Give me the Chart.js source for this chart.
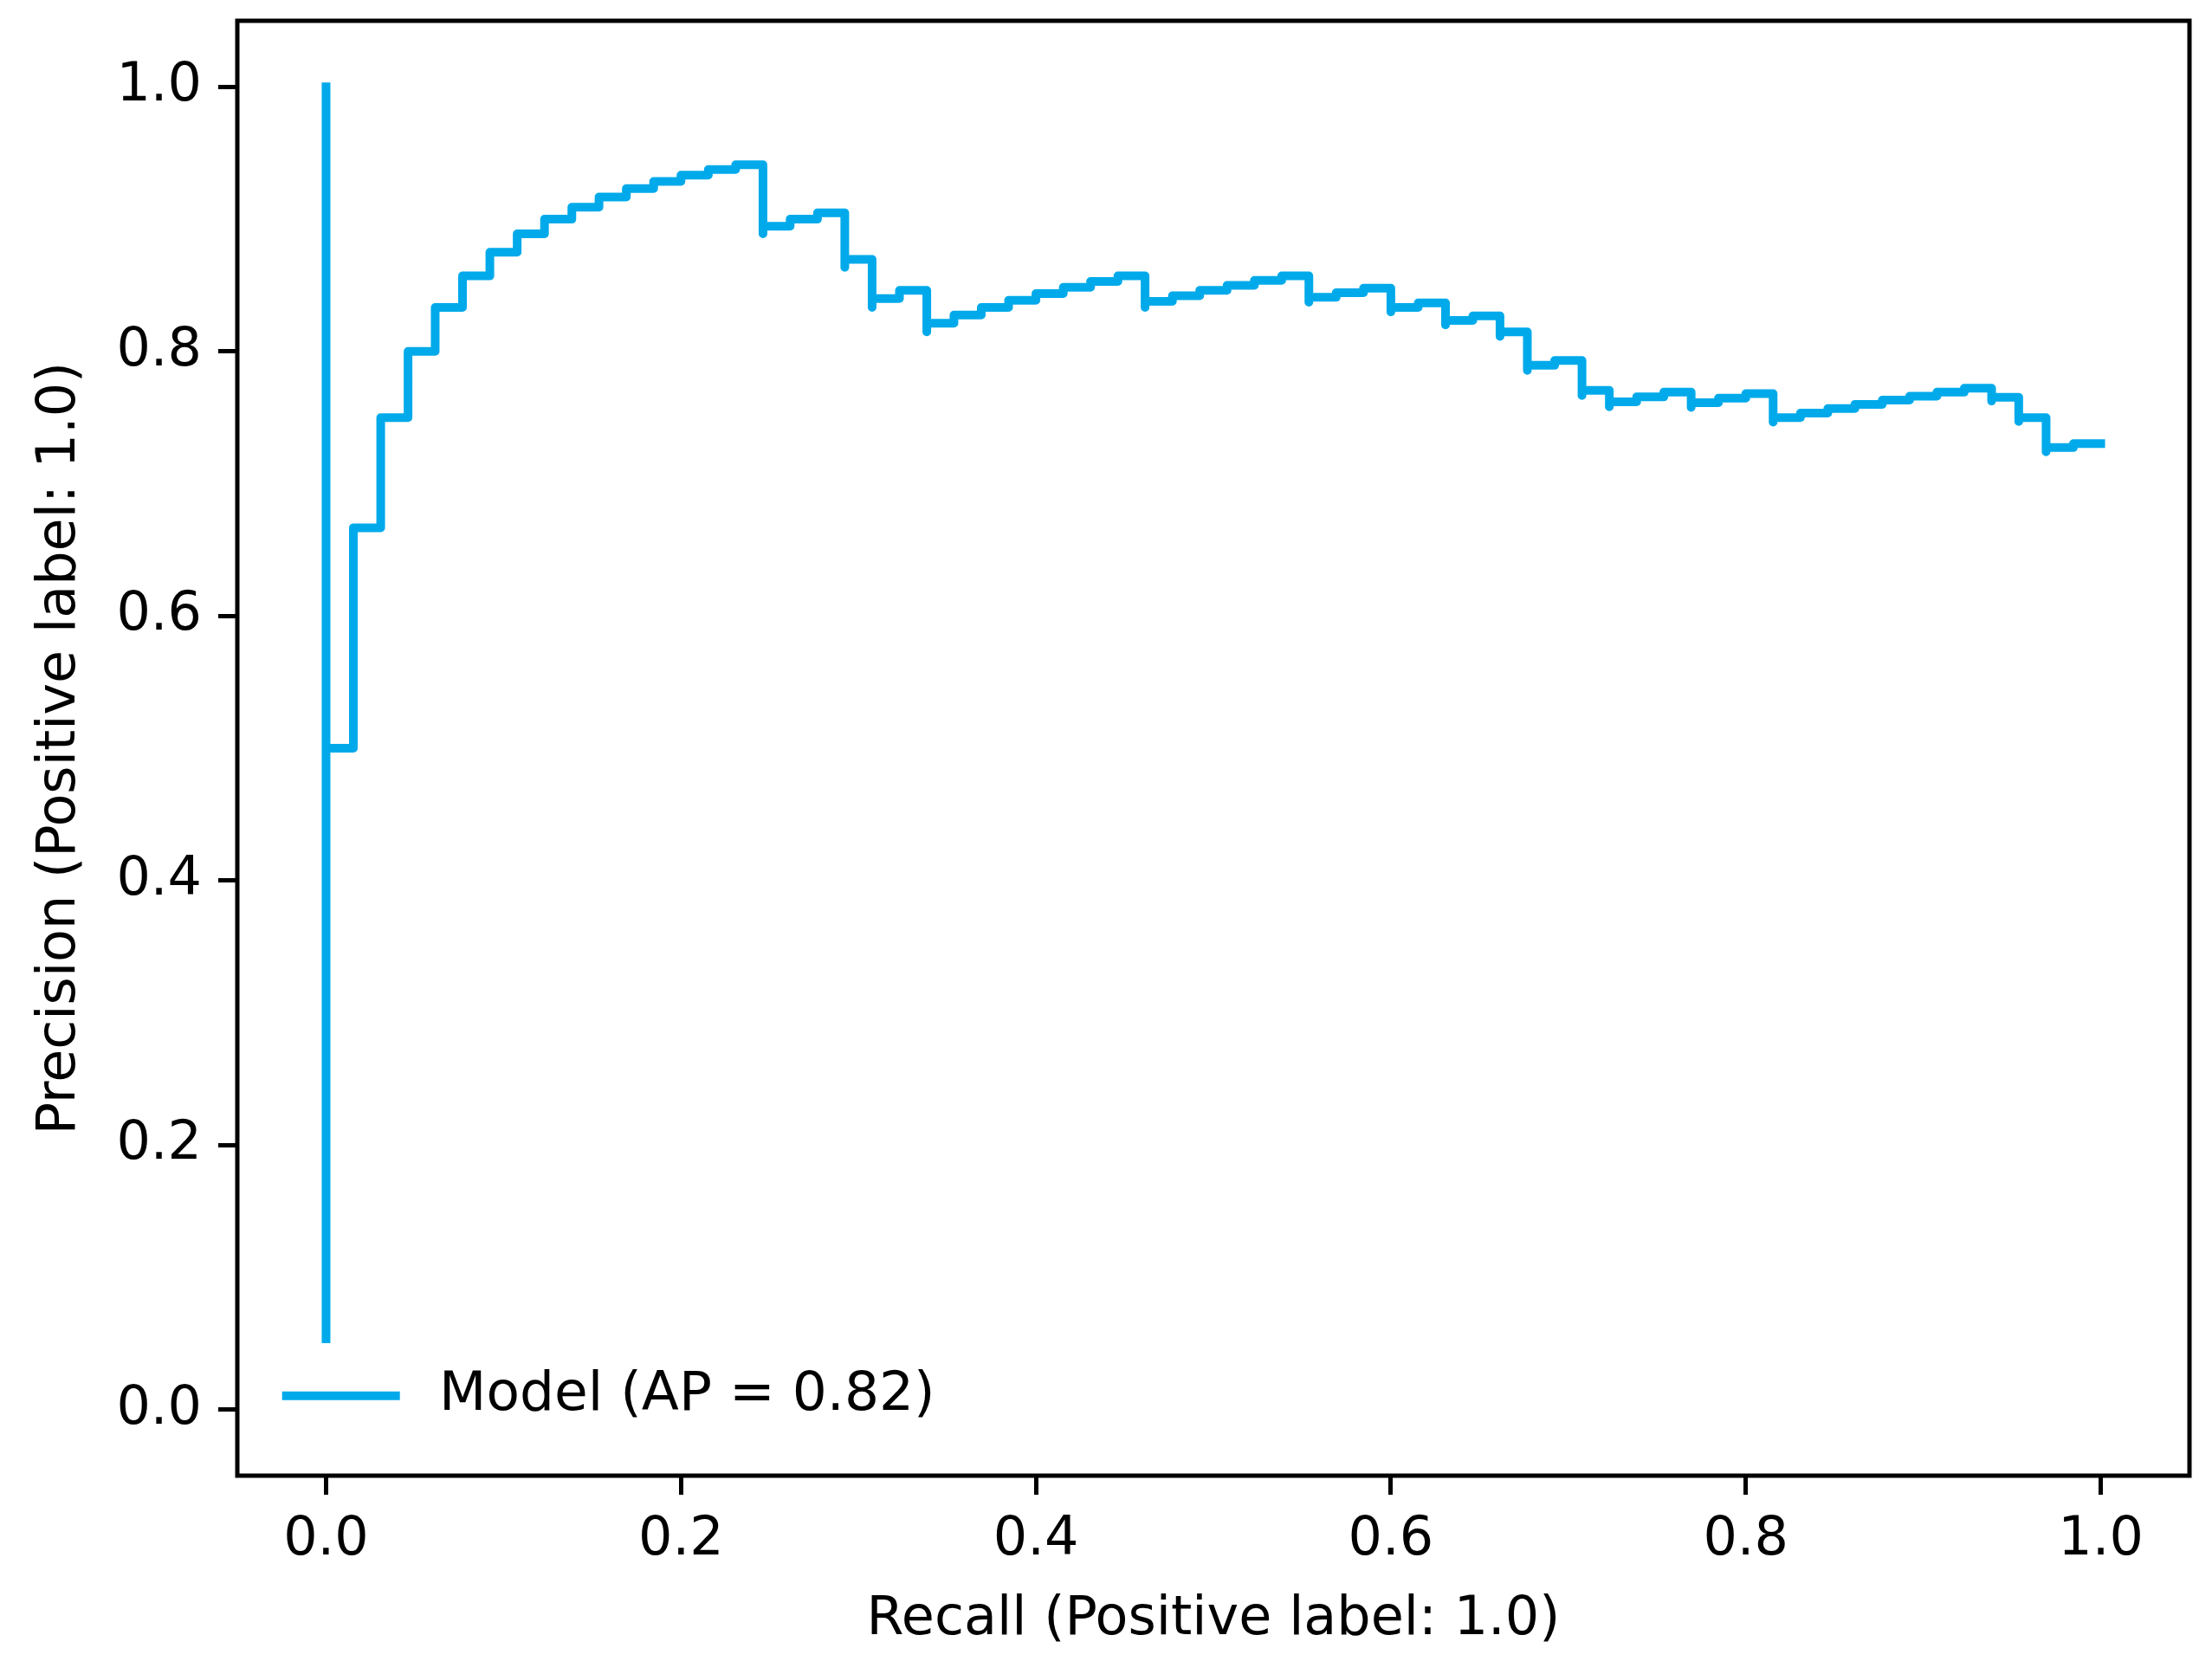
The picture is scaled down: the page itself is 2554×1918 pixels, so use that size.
<!DOCTYPE html>
<html>
<head>
<meta charset="utf-8">
<title>Precision-Recall curve</title>
<script src="https://cdn.jsdelivr.net/npm/chart.js@4.4.1/dist/chart.umd.min.js"></script>
<style>
	html, body { margin: 0; padding: 0; background: #fff; }
	canvas { display: block; }
</style>
</head>
<body>
<canvas id="prChart" width="2554" height="1918" style="width:2554px;height:1918px"></canvas>
<script>
// curve points (recall goes up, precision per threshold)
const recall = [
	0, 0, 0.0154, 0.0308, 0.0462, 0.0615, 0.0769, 0.0923, 0.1077, 0.1231,
	0.1385, 0.1538, 0.1692, 0.1846, 0.2, 0.2154, 0.2308, 0.2462, 0.2462, 0.2615,
	0.2769, 0.2923, 0.2923, 0.3077, 0.3077, 0.3231, 0.3385, 0.3385, 0.3538, 0.3692,
	0.3846, 0.4, 0.4154, 0.4308, 0.4462, 0.4615, 0.4615, 0.4769, 0.4923, 0.5077,
	0.5231, 0.5385, 0.5538, 0.5538, 0.5692, 0.5846, 0.6, 0.6, 0.6154, 0.6308,
	0.6308, 0.6462, 0.6615, 0.6615, 0.6769, 0.6769, 0.6769, 0.6923, 0.7077, 0.7077,
	0.7077, 0.7231, 0.7231, 0.7385, 0.7538, 0.7692, 0.7692, 0.7846, 0.8, 0.8154,
	0.8154, 0.8154, 0.8308, 0.8462, 0.8615, 0.8769, 0.8923, 0.9077, 0.9231, 0.9385,
	0.9385, 0.9538, 0.9538, 0.9538, 0.9692, 0.9692, 0.9692, 0.9692, 0.9846, 1.0,
];
const precision = [
	1.0, 0, 0.5, 0.6667, 0.75, 0.8, 0.8333, 0.8571, 0.875, 0.8889,
	0.9, 0.9091, 0.9167, 0.9231, 0.9286, 0.9333, 0.9375, 0.9412, 0.8889, 0.8947,
	0.9, 0.9048, 0.8636, 0.8696, 0.8333, 0.84, 0.8462, 0.8148, 0.8214, 0.8276,
	0.8333, 0.8387, 0.8438, 0.8485, 0.8529, 0.8571, 0.8333, 0.8378, 0.8421, 0.8462,
	0.85, 0.8537, 0.8571, 0.8372, 0.8409, 0.8444, 0.8478, 0.8298, 0.8333, 0.8367,
	0.82, 0.8235, 0.8269, 0.8113, 0.8148, 0.8, 0.7857, 0.7895, 0.7931, 0.7797,
	0.7667, 0.7705, 0.7581, 0.7619, 0.7656, 0.7692, 0.7576, 0.7612, 0.7647, 0.7681,
	0.7571, 0.7465, 0.75, 0.7534, 0.7568, 0.76, 0.7632, 0.7662, 0.7692, 0.7722,
	0.7625, 0.7654, 0.7561, 0.747, 0.75, 0.7412, 0.7326, 0.7241, 0.7273, 0.7303,
];
const xTicks = [0, 0.2, 0.4, 0.6, 0.8, 1.0];
const yTicks = [0, 0.2, 0.4, 0.6, 0.8, 1.0];
const seriesLabel = 'Model (AP = 0.82)';
const xTitle = 'Recall (Positive label: 1.0)';
const yTitle = 'Precision (Positive label: 1.0)';

const FONT_SIZE = 62;
const LEGEND_FONT_SIZE = 63;
const LINE_COLOR = '#00aaea';

Chart.defaults.font.family = '"DejaVu Sans", sans-serif';
Chart.defaults.font.size = FONT_SIZE;
Chart.defaults.color = '#000';

const getPoints = (xs, ys) => {
	const points = [];
	xs.map((x, i) => {
		points.push({ x: x, y: ys[i] });
	});
	return points;
};

// black frame on all four sides of the plot
const frameBox = {
	id: 'frameBox',
	afterDraw: (chart) => {
		const { ctx, chartArea } = chart;
		ctx.save();
		ctx.strokeStyle = '#000';
		ctx.lineWidth = 5;
		ctx.strokeRect(chartArea.left, chartArea.top, chartArea.right - chartArea.left, chartArea.bottom - chartArea.top);
		ctx.restore();
	},
};

// legend box inside the plot, lower left, white background
const insideLegend = {
	id: 'insideLegend',
	afterDatasetsDraw: (chart) => {
		const { ctx, chartArea } = chart;
		const ds = chart.data.datasets[0];
		const fs = LEGEND_FONT_SIZE;
		const pad = 0.4 * fs;
		const gap = 0.5 * fs;
		const handleLen = 2 * fs;
		const textPad = 0.8 * fs;
		const rowH = 1.13 * fs;

		ctx.save();
		ctx.font = fs + 'px "DejaVu Sans", sans-serif';
		const textW = ctx.measureText(ds.label).width;
		const boxW = pad + handleLen + textPad + textW + pad;
		const boxH = pad * 2 + rowH;
		const boxX = chartArea.left + gap;
		const boxY = chartArea.bottom - gap - boxH;
		ctx.fillStyle = '#fff';
		ctx.fillRect(boxX, boxY, boxW, boxH);

		const rowY = boxY + pad + rowH / 2;
		ctx.strokeStyle = ds.borderColor;
		ctx.lineWidth = ds.borderWidth;
		ctx.lineCap = 'square';
		ctx.beginPath();
		ctx.moveTo(boxX + pad, rowY);
		ctx.lineTo(boxX + pad + handleLen, rowY);
		ctx.stroke();

		ctx.fillStyle = '#000';
		ctx.textAlign = 'left';
		ctx.textBaseline = 'middle';
		ctx.fillText(ds.label, boxX + pad + handleLen + textPad, rowY);
		ctx.restore();
	},
};

const tickGrid = {
	drawOnChartArea: false,
	drawTicks: true,
	tickLength: 22,
	tickWidth: 5,
	tickColor: '#000',
	lineWidth: 5,
	color: '#000',
};

const dataLine = {
	datasets: [
		{
			label: seriesLabel,
			data: getPoints(recall, precision),
			borderColor: LINE_COLOR,
			borderWidth: 10,
			borderJoinStyle: 'round',
			borderCapStyle: 'square',
			stepped: 'after',
			fill: false,
			pointRadius: 0,
			pointHoverRadius: 0,
			tension: 0,
		},
	],
};

const config = {
	type: 'line',
	data: dataLine,
	options: {
		responsive: false,
		devicePixelRatio: 1,
		animation: false,
		layout: { padding: { left: 0, top: 24, right: 26, bottom: 0 } },
		plugins: {
			legend: { display: false },
			tooltip: { enabled: false },
		},
		scales: {
			x: {
				type: 'linear',
				min: -0.05,
				max: 1.05,
				border: { display: false },
				grid: tickGrid,
				afterBuildTicks: (axis) => {
					axis.ticks = xTicks.map((v) => ({ value: v }));
				},
				afterFit: (axis) => {
					axis.height = 214;
					axis.paddingLeft = 0;
					axis.paddingRight = 0;
				},
				ticks: {
					padding: 16,
					maxRotation: 0,
					autoSkip: false,
					callback: (v) => v.toFixed(1),
				},
				title: {
					display: true,
					text: xTitle,
					padding: { top: 0, bottom: 10 },
				},
			},
			y: {
				type: 'linear',
				min: -0.05,
				max: 1.05,
				border: { display: false },
				grid: tickGrid,
				afterBuildTicks: (axis) => {
					axis.ticks = yTicks.map((v) => ({ value: v }));
				},
				afterFit: (axis) => {
					axis.width = 274;
					axis.paddingTop = 0;
					axis.paddingBottom = 0;
				},
				ticks: {
					padding: 19,
					autoSkip: false,
					callback: (v) => v.toFixed(1),
				},
				title: {
					display: true,
					text: yTitle,
					padding: { top: 33, bottom: 0 },
				},
			},
		},
	},
	plugins: [insideLegend, frameBox],
};

//Create PR chart
const ctx = document.getElementById('prChart').getContext('2d');
const prChart = new Chart(ctx, config);
</script>
</body>
</html>
